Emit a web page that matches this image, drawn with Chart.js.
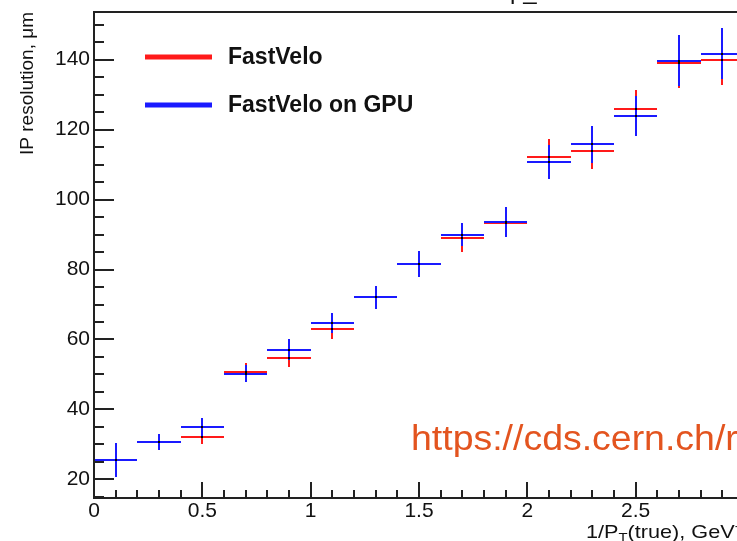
<!DOCTYPE html>
<html>
<head>
<meta charset="utf-8">
<script src="https://cdn.jsdelivr.net/npm/chart.js@4.4.1/dist/chart.umd.min.js"></script>
<style>
    html, body { margin: 0; padding: 0; background: #fff; overflow: hidden; }
    #wrap { width: 737px; height: 541px; overflow: hidden; position: relative; }
    canvas { display: block; }
</style>
</head>
<body>
<div id="wrap"><canvas id="ipChart" width="760" height="541"></canvas></div>
<script>
/* Data: bin centres in 1/pT, resolution in um, symmetric errors */
const binCentres = [0.1, 0.3, 0.5, 0.7, 0.9, 1.1, 1.3, 1.5, 1.7, 1.9, 2.1, 2.3, 2.5, 2.7, 2.9];
const binHalfWidth = 0.1;

const cpuValues = [25.5, 30.7, 32.2, 50.6, 54.7, 63.1, 72.1, 81.6, 88.9, 93.3, 112.2, 114.0, 125.8, 139.1, 139.9];
const cpuErrors = [4.8, 2.3, 2.0, 2.6, 2.6, 2.9, 3.3, 3.7, 3.8, 4.0, 5.2, 5.4, 5.6, 7.1, 7.2];

const gpuValues = [25.5, 30.7, 34.9, 50.2, 57.1, 64.7, 72.1, 81.6, 90.0, 93.6, 110.7, 115.8, 123.9, 139.7, 141.7];
const gpuErrors = [4.8, 2.3, 2.7, 2.4, 2.9, 2.9, 3.3, 3.7, 3.4, 4.4, 4.9, 5.3, 5.8, 7.3, 7.2];

const xTickValues = [0, 0.5, 1, 1.5, 2, 2.5, 3];
const yTickValues = [20, 40, 60, 80, 100, 120, 140];

const seriesNames = ['FastVelo', 'FastVelo on GPU'];
const seriesColors = ['#ff1a1a', '#1a1aff'];

function toPoints(values, errors) {
    return binCentres.map((x, i) => ({ x, y: values[i], err: errors[i] }));
}

const FONT = '"Liberation Sans", Arial, Helvetica, sans-serif';

// ROOT style frame, inner ticks, error crosses, legend and titles
const rootStyle = {
    id: 'rootStyle',
    afterDatasetsDraw(chart) {
        const ctx = chart.ctx;
        const xs = chart.scales.x;
        const ys = chart.scales.y;
        const area = chart.chartArea;
        const px = v => Math.round(xs.getPixelForValue(v));
        const py = v => Math.round(ys.getPixelForValue(v));

        ctx.save();

        // error crosses, red first then blue on top (snapped so blue fully covers red)
        chart.data.datasets.forEach((ds) => {
            ctx.strokeStyle = ds.borderColor;
            ctx.lineWidth = 2;
            ds.data.forEach(p => {
                const cx = px(p.x);
                const cy = py(p.y);
                ctx.beginPath();
                ctx.moveTo(px(p.x - binHalfWidth), cy);
                ctx.lineTo(px(p.x + binHalfWidth), cy);
                ctx.moveTo(cx, py(p.y - p.err));
                ctx.lineTo(cx, py(p.y + p.err));
                ctx.stroke();
            });
        });
        chart.data.datasets.forEach(ds => {
            ctx.fillStyle = '#000';
            ds.data.forEach(p => {
                ctx.fillRect(px(p.x) - 1, py(p.y) - 1, 2, 2);
            });
        });

        // frame
        ctx.strokeStyle = '#222';
        ctx.lineWidth = 2;
        ctx.strokeRect(area.left, area.top, area.right - area.left, area.bottom - area.top);

        // y ticks (major every 20, minor every 5)
        ctx.beginPath();
        for (let v = 15; v <= 150; v += 5) {
            const y = py(v);
            const len = (v % 20 === 0) ? 20 : 10;
            ctx.moveTo(area.left, y);
            ctx.lineTo(area.left + len, y);
        }
        // x ticks (major every 0.5, minor every 0.1)
        for (let i = 0; i <= 30; i++) {
            const x = px(i / 10);
            const len = (i % 5 === 0) ? 16 : 8;
            ctx.moveTo(x, area.bottom);
            ctx.lineTo(x, area.bottom - len);
        }
        ctx.stroke();

        // legend
        const legendY = [57, 105];
        chart.data.datasets.forEach((ds, i) => {
            ctx.strokeStyle = ds.borderColor;
            ctx.lineWidth = 5;
            ctx.beginPath();
            ctx.moveTo(145, legendY[i]);
            ctx.lineTo(212, legendY[i]);
            ctx.stroke();
            ctx.fillStyle = '#111';
            ctx.font = 'bold 23px ' + FONT;
            ctx.textAlign = 'left';
            ctx.textBaseline = 'alphabetic';
            ctx.fillText(ds.label, 228, legendY[i] + 7);
        });

        // y axis title
        ctx.save();
        ctx.translate(33, 12);
        ctx.rotate(-Math.PI / 2);
        ctx.font = '19px ' + FONT;
        ctx.fillStyle = '#111';
        ctx.textAlign = 'right';
        ctx.textBaseline = 'alphabetic';
        ctx.fillText('IP resolution, \u03bcm', 0, 0);
        ctx.restore();

        // x axis title with subscript / superscript (a bit stretched, like ROOT's Helvetica)
        ctx.save();
        ctx.translate(586, 538);
        ctx.scale(1.14, 1);
        ctx.fillStyle = '#111';
        ctx.textAlign = 'left';
        let tx = 0;
        ctx.font = '19px ' + FONT;
        ctx.fillText('1/P', tx, 0);
        tx += ctx.measureText('1/P').width;
        ctx.font = '13px ' + FONT;
        ctx.fillText('T', tx, 4);
        tx += ctx.measureText('T').width;
        ctx.font = '19px ' + FONT;
        ctx.fillText('(true), GeV', tx, 0);
        tx += ctx.measureText('(true), GeV').width;
        ctx.font = '13px ' + FONT;
        ctx.fillText('-1', tx, -8);
        ctx.restore();

        // bottom of the title, clipped by the page edge
        ctx.fillStyle = '#111';
        ctx.font = '24px ' + FONT;
        ctx.fillText('p_', 510, -1);

        // source note
        ctx.save();
        ctx.translate(411, 450);
        ctx.scale(1.07, 1);
        ctx.font = '35px ' + FONT;
        ctx.fillStyle = '#e3541f';
        ctx.fillText('https://cds.cern.ch/record', 0, 0);
        ctx.restore();

        ctx.restore();
    }
};

const ctx = document.getElementById('ipChart').getContext('2d');
new Chart(ctx, {
    type: 'scatter',
    data: {
        datasets: [
            {
                label: seriesNames[0],
                data: toPoints(cpuValues, cpuErrors),
                borderColor: seriesColors[0],
                backgroundColor: seriesColors[0],
                pointRadius: 0,
                showLine: false
            },
            {
                label: seriesNames[1],
                data: toPoints(gpuValues, gpuErrors),
                borderColor: seriesColors[1],
                backgroundColor: seriesColors[1],
                pointRadius: 0,
                showLine: false
            }
        ]
    },
    options: {
        responsive: false,
        animation: false,
        layout: { padding: { top: 12, right: 16, left: 0, bottom: 0 } },
        plugins: {
            legend: { display: false },
            tooltip: { enabled: false }
        },
        scales: {
            x: {
                type: 'linear',
                min: 0,
                max: 3,
                grid: { display: false, drawTicks: false },
                border: { display: false },
                afterBuildTicks: (scale) => { scale.ticks = xTickValues.map(v => ({ value: v })); },
                afterFit: (scale) => {
                    scale.height = 43;
                    scale.paddingLeft = 0;
                    scale.paddingRight = 0;
                },
                ticks: {
                    color: '#111',
                    padding: 1,
                    font: { size: 21, family: FONT },
                    callback: (v) => String(v)
                }
            },
            y: {
                type: 'linear',
                min: 14.7,
                max: 153.6,
                grid: { display: false, drawTicks: false },
                border: { display: false },
                afterBuildTicks: (scale) => { scale.ticks = yTickValues.map(v => ({ value: v })); },
                afterFit: (scale) => {
                    scale.width = 94;
                    scale.paddingTop = 0;
                    scale.paddingBottom = 0;
                },
                ticks: {
                    color: '#111',
                    padding: 4,
                    font: { size: 21, family: FONT },
                    callback: (v) => String(v)
                }
            }
        }
    },
    plugins: [rootStyle]
});
</script>
</body>
</html>
